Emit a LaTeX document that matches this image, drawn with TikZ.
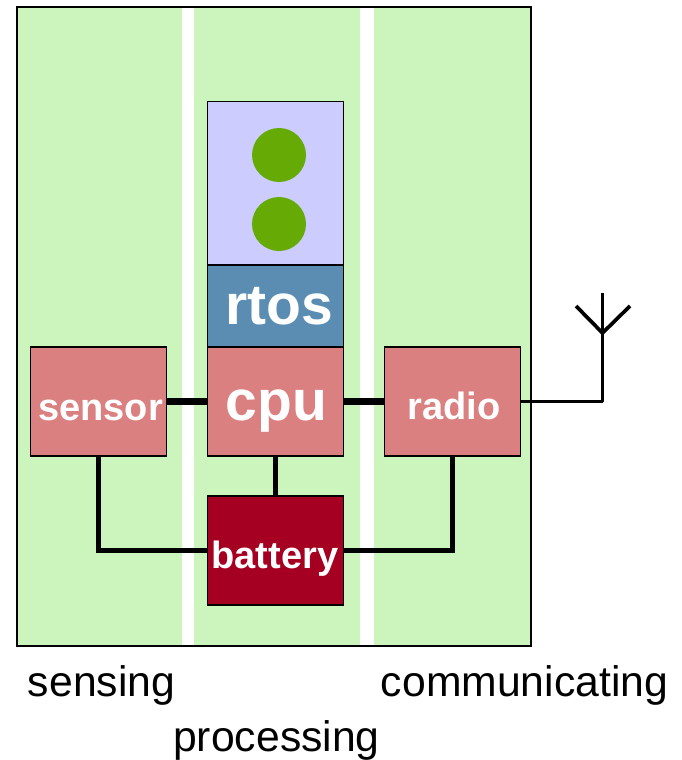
\documentclass[tikz,border=0pt]{standalone}
\usepackage{fontspec}
\setmainfont{Liberation Sans}
\definecolor{bandg}{HTML}{CCF5BE}
\definecolor{boxred}{HTML}{DB8080}
\definecolor{rtosb}{HTML}{5B8DB3}
\definecolor{appb}{HTML}{CCCCFF}
\definecolor{batt}{HTML}{A50021}
\definecolor{dotg}{HTML}{66AA05}
\tikzset{
 block/.style={draw=black,line width=1.4pt,minimum width=136pt,minimum height=109pt,inner sep=0pt,font=\bfseries,text=white,text depth=0pt},
 wire/.style={line width=4.6pt,line cap=butt},
 thick wire/.style={line width=6.5pt},
 ant wire/.style={line width=3.7pt,line join=round},
 dot/.style={circle,fill=dotg,minimum size=54pt,inner sep=0pt},
 big text/.style={font=\bfseries\fontsize{57}{57}\selectfont},
 mid text/.style={font=\bfseries\fontsize{38}{38}\selectfont},
 cap label/.style={font=\fontsize{42.7}{43}\selectfont,inner sep=0pt,anchor=base}
}
\begin{document}
\begin{tikzpicture}[x=1pt,y=-1pt]
\useasboundingbox (0,0) rectangle (682,760);
\fill[bandg] (17,7) rectangle (182,646);
\fill[bandg] (194,7) rectangle (360,646);
\fill[bandg] (374,7) rectangle (531,646);
\draw[line width=1.4pt] (17,7) rectangle (531,646);
\node[block,fill=appb,minimum height=164pt] (app) at (275.5,183.5) {};
\node[dot] (d1) at (279,155) {};
\node[dot] (d2) at (279,224) {};
\node[block,fill=rtosb,minimum height=82pt,big text,text height=36pt] (rtos) at (275.5,306) {\hspace*{8pt}rtos};
\node[block,fill=boxred,big text,text height=37pt] (cpu) at (275.5,401.5) {\hspace*{2pt}cpu};
\node[block,fill=boxred,mid text,text height=37pt] (sensor) at (98.5,401.5) {\hspace*{4pt}sensor};
\node[block,fill=boxred,mid text,text height=35pt] (radio) at (452.5,401.5) {\hspace*{3pt}radio};
\node[block,fill=batt,mid text,text height=35pt] (battery) at (275.5,550.5) {battery\hspace*{1pt}};
\draw[thick wire] (sensor) -- (cpu);
\draw[thick wire] (cpu) -- (radio);
\draw[wire] (cpu) -- (battery);
\draw[wire] (sensor.south) |- (battery.west);
\draw[wire] (radio.south) |- (battery.east);
\coordinate (ant) at (602.5,333);
\coordinate (tipl) at (576,306);
\coordinate (tipr) at (630,306);
\coordinate (top) at (602.5,293);
\draw[ant wire] (radio.east) -| (top);
\draw[ant wire] (tipl) -- (ant) -- (tipr);
\node[cap label] (l1) at (101.5,696) {sensing};
\node[cap label] (l2) at (276.5,751) {processing};
\node[cap label] (l3) at (524.5,696) {communicating};
\end{tikzpicture}
\end{document}
